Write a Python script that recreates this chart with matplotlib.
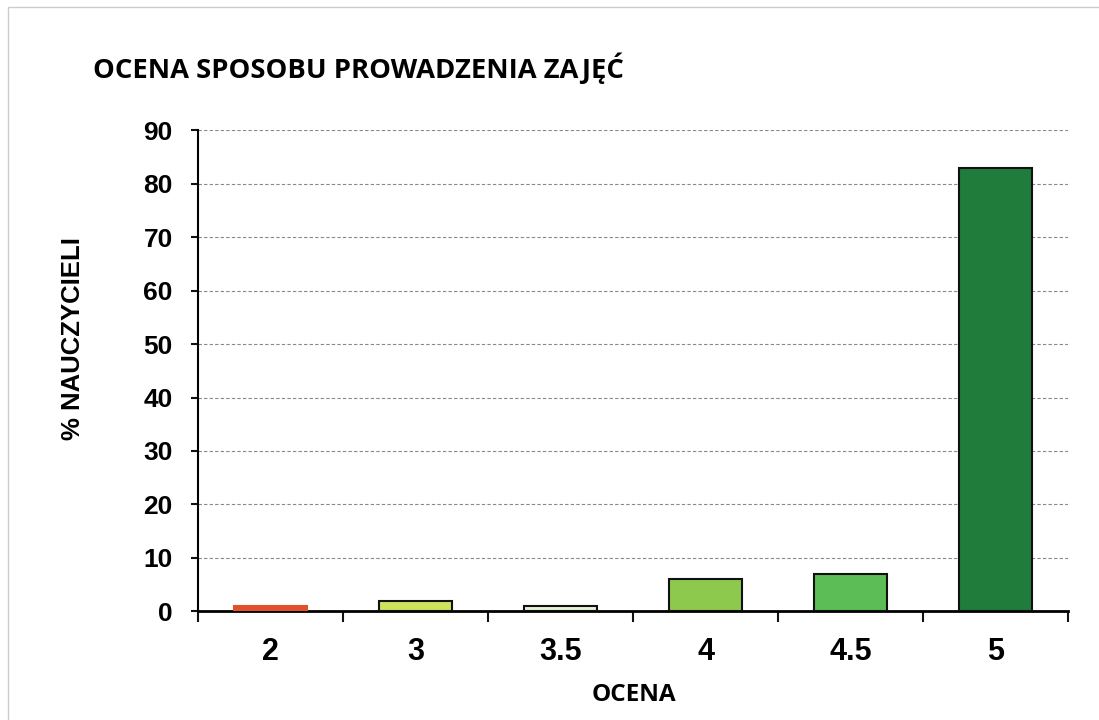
import matplotlib
matplotlib.use("Agg")
import matplotlib.pyplot as plt
import numpy as np

categories = ["2", "3", "3.5", "4", "4.5", "5"]
values = [1, 2, 1, 6, 7, 83]
colors = ["#e2512e", "#cde35c", "#e4f2d6", "#8dc94c", "#5cbd57", "#1f7c3b"]
edgecolors = ["#e2512e", "#111111", "#111111", "#111111", "#111111", "#111111"]
yticks = [0, 10, 20, 30, 40, 50, 60, 70, 80, 90]

fig = plt.figure(figsize=(10.99, 7.2), dpi=100)
fig.patches.append(plt.Rectangle((0.007, -0.01), 1.1, 1.0, transform=fig.transFigure,
                                 fill=False, edgecolor="#cccccc", linewidth=1))
ax = fig.add_axes([0.180, 0.151, 0.792, 0.668])

x = np.arange(len(categories))
ax.bar(x, values, width=0.5, color=colors, edgecolor=edgecolors, linewidth=1.5, zorder=3)

ax.set_xlim(-0.5, len(categories) - 0.5)
ax.set_ylim(0, 90)
ax.set_yticks(yticks)
ax.set_yticklabels([str(t) for t in yticks], fontsize=19, fontweight="bold", family="Liberation Sans")
ax.set_xticks(x)
ax.set_xticklabels(categories, fontsize=22, fontweight="bold", family="Liberation Sans")
ax.tick_params(axis="x", length=0, pad=18.5)
ax.set_xticks(np.arange(-0.5, len(categories)), minor=True)
ax.tick_params(axis="x", which="minor", length=8, width=1.5, color="#111111")
ax.tick_params(axis="y", length=5, width=1.5, color="#111111", pad=13)

ax.grid(axis="y", linestyle=(0, (3, 2)), color="#888888", linewidth=0.8, zorder=0)
for s in ["top", "right"]:
    ax.spines[s].set_visible(False)
ax.spines["left"].set_linewidth(1.5)
ax.spines["bottom"].set_linewidth(2)

ax.set_xlabel("OCENA", fontsize=17.5, fontweight="bold", family="Open Sans")
ax.xaxis.set_label_coords(0.501, -0.150)
ax.set_ylabel("% NAUCZYCIELI", fontsize=18.5, fontweight="bold", family="Liberation Sans")
ax.yaxis.set_label_coords(-0.130, 0.568)

fig.text(0.0846, 0.9056, "OCENA SPOSOBU PROWADZENIA ZAJĘĆ", fontsize=19.75, fontweight="bold",
         family="Open Sans", ha="left", va="center")

fig.savefig("out.png", dpi=100)
